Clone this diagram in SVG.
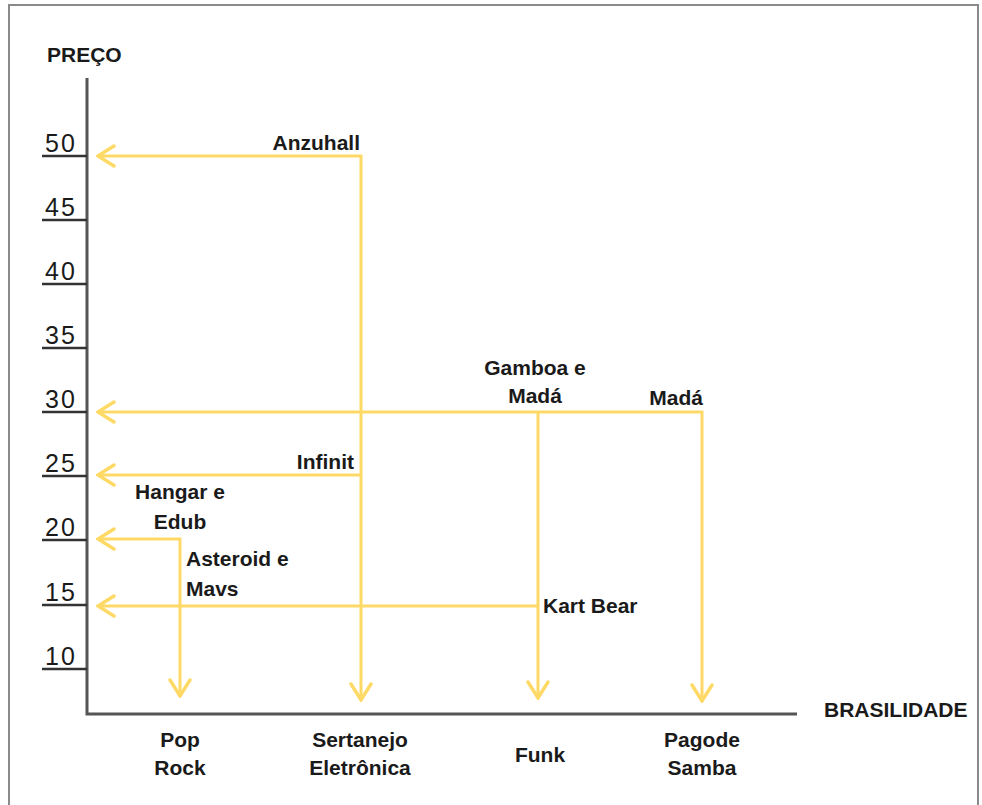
<svg xmlns="http://www.w3.org/2000/svg" width="982" height="805" viewBox="0 0 982 805">
<defs>
<style>
.lbl{font-family:"Liberation Sans",Arial,sans-serif;font-weight:bold;font-size:21px;fill:#1a1a1a}
.num{font-family:"Liberation Sans",Arial,sans-serif;font-size:25px;fill:#1a1a1a;letter-spacing:2px}
.axis{stroke:#555;stroke-width:3;fill:none}
.tick{stroke:#333;stroke-width:2.5;fill:none}
.con{stroke:#FFD966;stroke-width:3;fill:none;stroke-linejoin:miter}
</style>
<marker id="ah" markerUnits="userSpaceOnUse" markerWidth="24" markerHeight="26" refX="22" refY="12" orient="auto-start-reverse" viewBox="0 0 24 24">
<path d="M6,2 L22,12 L6,22" fill="none" stroke="#FFD966" stroke-width="3.4" stroke-linecap="round"/>
</marker>
</defs>
<rect x="9" y="5" width="969" height="812" fill="#fff" stroke="#8a8a8a" stroke-width="2"/>

<g id="axes">
<path class="axis" d="M87,78 V714 H797"/>
<text class="lbl" x="47" y="62">PREÇO</text>
<text class="lbl" x="824" y="717">BRASILIDADE</text>
</g>

<g id="y-scale">
<path class="tick" d="M42,156 H87 M42,220 H87 M42,284 H87 M42,348 H87 M42,412 H87 M42,476 H87 M42,540 H87 M42,605 H87 M42,669 H87"/>
<text class="num" x="45" y="152">50</text>
<text class="num" x="45" y="216">45</text>
<text class="num" x="45" y="280">40</text>
<text class="num" x="45" y="344">35</text>
<text class="num" x="45" y="408">30</text>
<text class="num" x="45" y="472">25</text>
<text class="num" x="45" y="536">20</text>
<text class="num" x="45" y="601">15</text>
<text class="num" x="45" y="665">10</text>
</g>

<g id="connectors">
<path class="con" d="M98,156 H361 V700" marker-start="url(#ah)" marker-end="url(#ah)"/>
<path class="con" d="M98,475 H361" marker-start="url(#ah)"/>
<path class="con" d="M98,412 H702 V701" marker-start="url(#ah)" marker-end="url(#ah)"/>
<path class="con" d="M538,412 V698" marker-end="url(#ah)"/>
<path class="con" d="M98,539 H180 V696" marker-start="url(#ah)" marker-end="url(#ah)"/>
<path class="con" d="M98,606 H538" marker-start="url(#ah)"/>
</g>

<g id="anzuhall"><text class="lbl" x="360" y="150" text-anchor="end">Anzuhall</text></g>
<g id="infinit"><text class="lbl" x="354" y="469" text-anchor="end">Infinit</text></g>
<g id="gamboa-mada"><text class="lbl" x="535" y="375" text-anchor="middle">Gamboa e</text><text class="lbl" x="535" y="403" text-anchor="middle">Madá</text></g>
<g id="mada"><text class="lbl" x="703" y="405" text-anchor="end">Madá</text></g>
<g id="hangar-edub"><text class="lbl" x="180" y="499" text-anchor="middle">Hangar e</text><text class="lbl" x="180" y="529" text-anchor="middle">Edub</text></g>
<g id="asteroid-mavs"><text class="lbl" x="186" y="566">Asteroid e</text><text class="lbl" x="186" y="596">Mavs</text></g>
<g id="kart-bear"><text class="lbl" x="543" y="613">Kart Bear</text></g>

<g id="pop-rock"><text class="lbl" x="180" y="747" text-anchor="middle">Pop</text><text class="lbl" x="180" y="775" text-anchor="middle">Rock</text></g>
<g id="sertanejo"><text class="lbl" x="360" y="747" text-anchor="middle">Sertanejo</text><text class="lbl" x="360" y="775" text-anchor="middle">Eletrônica</text></g>
<g id="funk"><text class="lbl" x="540" y="762" text-anchor="middle">Funk</text></g>
<g id="pagode"><text class="lbl" x="702" y="747" text-anchor="middle">Pagode</text><text class="lbl" x="702" y="775" text-anchor="middle">Samba</text></g>
</svg>
